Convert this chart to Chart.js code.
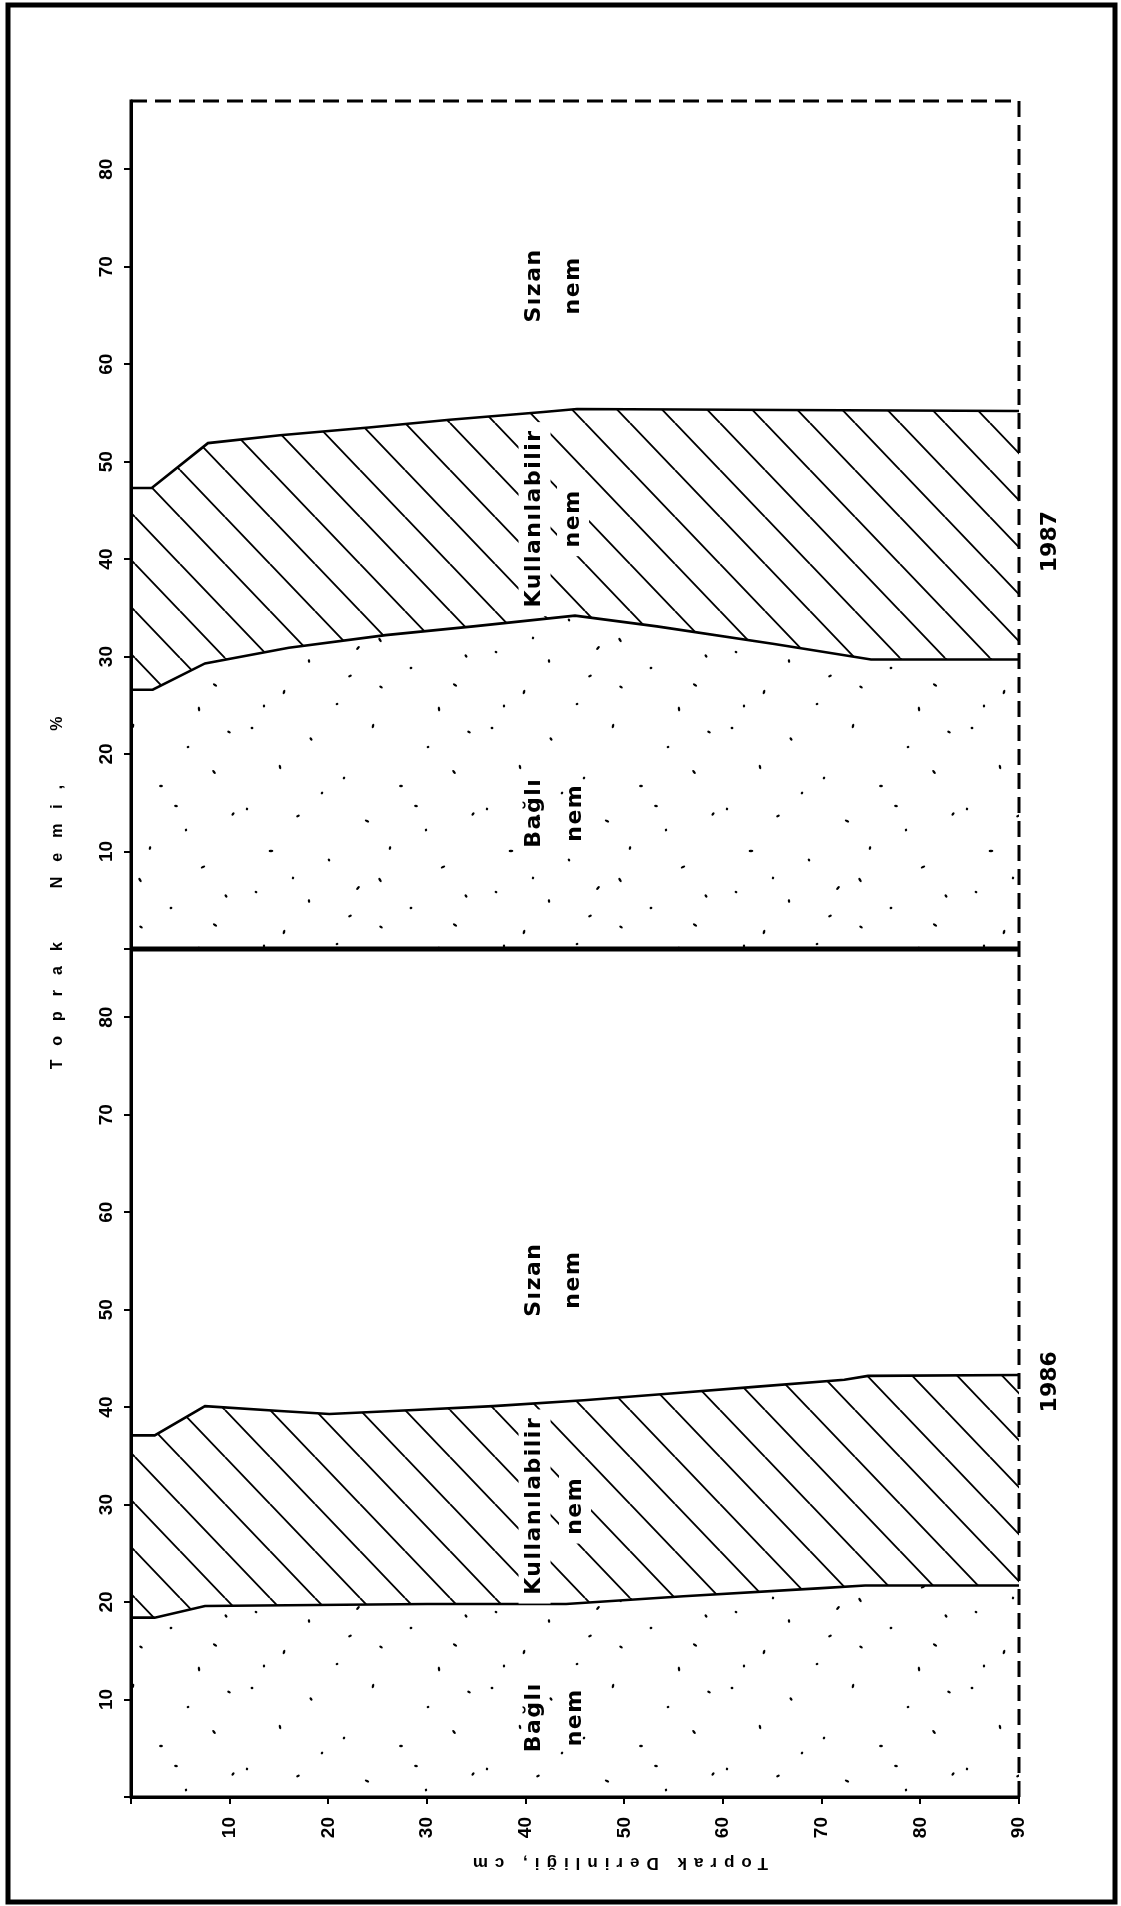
<!DOCTYPE html>
<html>
<head>
<meta charset="utf-8">
<title>Toprak nemi 1986 - 1987</title>
<script src="https://cdn.jsdelivr.net/npm/chart.js"></script>
<style>
  html, body { margin: 0; padding: 0; background: #fff; }
  #chart { display: block; }
</style>
</head>
<body>
<canvas id="chart" width="1121" height="1906"></canvas>
<script>
// derinlik (cm) ve nem (%) degerleri
// 1987: ust cizgi (tarla kapasitesi) ve alt cizgi (solma noktasi)
const depth87Top = [0, 2.1, 7.8, 15.1, 24.1, 32.3, 41.8, 45.2, 66.2, 90];
const moist87Top = [47.3, 47.3, 51.9, 52.7, 53.5, 54.3, 55.1, 55.4, 55.3, 55.2];
const depth87Low = [0, 2.2, 7.5, 16.0, 25.8, 34.7, 45.0, 53.3, 65.2, 75.0, 90];
const moist87Low = [26.6, 26.6, 29.3, 30.9, 32.2, 33.1, 34.2, 33.1, 31.3, 29.7, 29.7];

// 1986
const depth86Top = [0, 2.4, 7.5, 15.1, 20.1, 28.7, 36.7, 45.9, 54.7, 63.5, 72.3, 74.7, 90];
const moist86Top = [37.1, 37.1, 40.1, 39.6, 39.3, 39.7, 40.1, 40.7, 41.4, 42.1, 42.8, 43.2, 43.3];
const depth86Low = [0, 2.4, 7.5, 30.0, 44.1, 56.0, 69.6, 74.4, 90];
const moist86Low = [18.4, 18.4, 19.6, 19.8, 19.8, 20.6, 21.4, 21.7, 21.7];

const depthTicks = [10, 20, 30, 40, 50, 60, 70, 80, 90];
const moistTicks = [10, 20, 30, 40, 50, 60, 70, 80];
const depthMax = 90;
const moistMax = 87;

// alan yazilari (x = derinlik, y = nem)
const areaLabels = [
  {scale: 'y87', at: 68.0, cols: [[40.9, 'Sızan'], [44.8, 'nem']]},
  {scale: 'y87', at: 44.1, cols: [[40.9, 'Kullanılabilir'], [44.8, 'nem']], clear: true},
  {scale: 'y87', at: 13.9, cols: [[40.9, 'Bağlı'], [45.0, 'nem']]},
  {scale: 'y86', at: 53.0, cols: [[40.9, 'Sızan'], [44.8, 'nem']]},
  {scale: 'y86', at: 29.8, cols: [[40.9, 'Kullanılabilir'], [45.0, 'nem']], clear: true},
  {scale: 'y86', at: 8.1, cols: [[40.9, 'Bağlı'], [45.0, 'nem']]}
];
const yearLabels = [{scale: 'y87', at: 41.8, text: '1987'}, {scale: 'y86', at: 42.6, text: '1986'}];

const labelFont = 'bold 22px "DejaVu Sans"';
const tickFont = 'bold 19px "Liberation Sans", Arial';
const titleFont = 'bold 16px "Liberation Sans", Arial';

function makeHatch() {
  var w = 45, h = 47;
  var c = document.createElement('canvas');
  c.width = w; c.height = h;
  var g = c.getContext('2d');
  g.strokeStyle = '#000';
  g.lineWidth = 1.9;
  g.beginPath();
  [-w, 0, w].forEach(function(dx) {
    g.moveTo(dx, 0);
    g.lineTo(dx + w, h);
  });
  g.stroke();
  return g.createPattern(c, 'repeat');
}

// noktali doku (elle yerlestirilmis noktalar, 240x240 karo)
function makeStipple() {
  var dots = [[12, 8], [71, 19], [133, 6], [188, 27], [229, 12], [40, 47], [104, 58], [161, 66],
              [214, 52], [7, 89], [58, 96], [127, 101], [186, 110], [233, 94], [31, 131], [89, 140],
              [150, 128], [203, 147], [16, 172], [69, 181], [118, 168], [171, 188], [226, 176],
              [44, 212], [97, 224], [141, 207], [199, 229], [82, 73], [176, 86], [140, 160],
              [53, 158], [110, 196], [215, 205], [24, 226]];
  var c = document.createElement('canvas');
  c.width = 240; c.height = 240;
  var g = c.getContext('2d');
  g.fillStyle = '#000';
  dots.forEach(function(d, i) {
    g.beginPath();
    g.ellipse(d[0], d[1], 1.4 + (i % 3) * 0.5, 1.2, (i * 0.9) % Math.PI, 0, Math.PI * 2);
    g.fill();
  });
  return g.createPattern(c, 'repeat');
}

function pts(xs, ys) {
  return xs.map(function(x, i) { return {x: x, y: ys[i]}; });
}

function rotText(ctx, text, x, y, font, spacing, angle) {
  ctx.save();
  ctx.translate(x, y);
  ctx.rotate(angle);
  ctx.font = font;
  ctx.letterSpacing = spacing + 'px';
  ctx.textAlign = 'center';
  ctx.textBaseline = 'middle';
  ctx.fillStyle = '#000';
  ctx.fillText(text, spacing / 2, 0);
  ctx.restore();
}

const decor = {
  id: 'decor',
  afterDatasetsDraw: function(chart) {
    var ctx = chart.ctx, xs = chart.scales.x;
    // yazilarin arkasini temizle, sonra yaz
    areaLabels.forEach(function(l) {
      var ys = chart.scales[l.scale];
      var py = ys.getPixelForValue(l.at);
      l.cols.forEach(function(col) {
        var px = xs.getPixelForValue(col[0]);
        if (l.clear) {
          ctx.save();
          ctx.font = labelFont;
          ctx.letterSpacing = '1.5px';
          var w = ctx.measureText(col[1]).width;
          ctx.fillStyle = '#fff';
          ctx.fillRect(px - 16, py - w / 2 - 8, 32, w + 16);
          ctx.restore();
        }
      });
      l.cols.forEach(function(col) {
        rotText(ctx, col[1], xs.getPixelForValue(col[0]), py, labelFont, 1.5, -Math.PI / 2);
      });
    });
  },
  afterDraw: function(chart) {
    var ctx = chart.ctx, a = chart.chartArea;
    var y87 = chart.scales.y87, y86 = chart.scales.y86, xs = chart.scales.x;
    ctx.save();
    ctx.strokeStyle = '#000';
    ctx.lineCap = 'butt';
    // kesik ust ve sag kenar
    ctx.lineWidth = 3;
    ctx.setLineDash([16, 8]);
    ctx.beginPath();
    ctx.moveTo(a.left, a.top);
    ctx.lineTo(a.right, a.top);
    ctx.lineTo(a.right, a.bottom);
    ctx.stroke();
    ctx.setLineDash([]);
    // sol ve alt eksen cizgisi
    ctx.beginPath();
    ctx.moveTo(a.left, a.top - 1.5);
    ctx.lineTo(a.left, a.bottom);
    ctx.lineTo(a.right, a.bottom);
    ctx.stroke();
    // iki yil arasindaki kalin cizgi
    ctx.lineWidth = 5;
    var mid = y87.getPixelForValue(0);
    ctx.beginPath();
    ctx.moveTo(a.left, mid);
    ctx.lineTo(a.right, mid);
    ctx.stroke();
    // sayfa cercevesi
    ctx.lineWidth = 5;
    ctx.strokeRect(8, 5, chart.width - 14, chart.height - 9);
    ctx.restore();

    // y ekseni sayilari
    [y87, y86].forEach(function(s) {
      moistTicks.forEach(function(v) {
        rotText(ctx, String(v), a.left - 24, s.getPixelForValue(v), tickFont, 0, -Math.PI / 2);
      });
    });
    // yillar
    yearLabels.forEach(function(l) {
      rotText(ctx, l.text, a.right + 31, chart.scales[l.scale].getPixelForValue(l.at),
              'bold 22px "DejaVu Sans"', 0, -Math.PI / 2);
    });
    // eksen basliklari
    rotText(ctx, 'Toprak  Nemi,  %', 58, (a.top + a.bottom) / 2 - 56, titleFont, 15, -Math.PI / 2);
    rotText(ctx, 'Toprak Derinliği, cm', xs.getPixelForValue(49.6), a.bottom + 66,
            'bold 17px "Liberation Sans", Arial', 7, Math.PI);
  }
};

function yAxis(weight) {
  return {
    type: 'linear',
    position: 'left',
    stack: 'panel',
    stackWeight: 1,
    weight: weight,
    min: 0,
    max: moistMax,
    afterBuildTicks: function(s) {
      s.ticks = [0].concat(moistTicks).map(function(v) { return {value: v}; });
    },
    grid: {drawOnChartArea: false, drawTicks: true, tickLength: 7, color: '#000', lineWidth: 2},
    border: {display: true, color: '#000', width: 3},
    ticks: {display: false},
    afterFit: function(s) { s.width = 131; }
  };
}

const hatch = makeHatch();
const stipple = makeStipple();
const lineStyle = {borderColor: '#000', borderWidth: 2.6, pointRadius: 0, tension: 0};

new Chart(document.getElementById('chart'), {
  type: 'line',
  data: {
    datasets: [
      Object.assign({label: '1987 bağlı nem', data: pts(depth87Low, moist87Low), yAxisID: 'y87',
        fill: 'origin', backgroundColor: stipple}, lineStyle),
      Object.assign({label: '1987 kullanılabilir nem', data: pts(depth87Top, moist87Top), yAxisID: 'y87',
        fill: '-1', backgroundColor: hatch}, lineStyle),
      Object.assign({label: '1986 bağlı nem', data: pts(depth86Low, moist86Low), yAxisID: 'y86',
        fill: 'origin', backgroundColor: stipple}, lineStyle),
      Object.assign({label: '1986 kullanılabilir nem', data: pts(depth86Top, moist86Top), yAxisID: 'y86',
        fill: '-1', backgroundColor: hatch}, lineStyle)
    ]
  },
  options: {
    responsive: false,
    animation: false,
    devicePixelRatio: 1,
    layout: {padding: {top: 101, right: 102, left: 0, bottom: 0}},
    plugins: {legend: {display: false}, tooltip: {enabled: false}},
    scales: {
      x: {
        type: 'linear',
        min: 0,
        max: depthMax,
        afterBuildTicks: function(s) {
          s.ticks = [0].concat(depthTicks).map(function(v) { return {value: v}; });
        },
        grid: {drawOnChartArea: false, drawTicks: true, tickLength: 7, color: '#000', lineWidth: 2},
        border: {display: true, color: '#000', width: 3},
        ticks: {
          autoSkip: false, minRotation: 90, maxRotation: 90, padding: 13, color: '#000',
          font: {family: '"Liberation Sans", Arial', size: 19, weight: 'bold'},
          callback: function(v) { return v === 0 ? '' : String(v); }
        },
        afterFit: function(s) { s.height = 109; }
      },
      y87: yAxis(2),
      y86: yAxis(1)
    }
  },
  plugins: [decor]
});
</script>
</body>
</html>
